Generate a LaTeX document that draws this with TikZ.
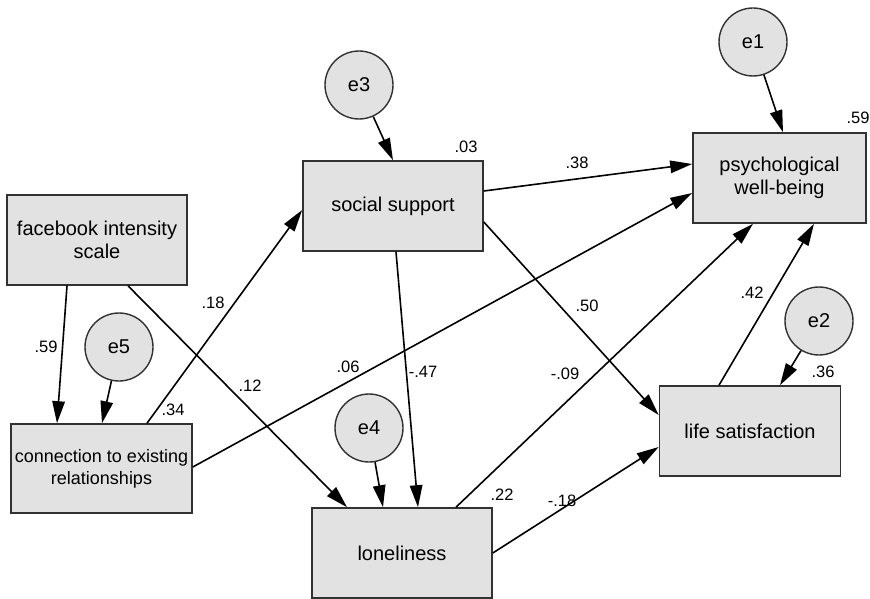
\documentclass[tikz,border=0pt]{standalone}
\usepackage{fontspec}
\setmainfont{Liberation Sans}
\usetikzlibrary{arrows.meta}
\definecolor{boxfill}{RGB}{226,226,226}
\definecolor{boxline}{RGB}{50,50,50}
\tikzset{
  var/.style={draw=boxline, line width=1.6pt, fill=boxfill, align=center,
    font=\fontsize{20}{23}\selectfont, inner sep=0pt},
  err/.style={circle, draw=boxline, line width=1.4pt, fill=boxfill,
    minimum size=68pt, inner sep=0pt, font=\fontsize{20}{23}\selectfont},
  lab/.style={font=\fontsize{16.5}{19}\selectfont, inner sep=0pt},
  sempath/.style={line width=1.6pt, -{Triangle[length=22pt,width=12.5pt]}},
}
\begin{document}
\begin{tikzpicture}[x=1pt,y=-1pt]
\useasboundingbox (0,0) rectangle (870,599);
% observed variables
\node[var, minimum width=180pt, minimum height=90pt] (fb) at (97,240) {facebook intensity\\scale};
\node[var, minimum width=181pt, minimum height=89pt, font=\fontsize{18}{22}\selectfont] (conn) at (101.5,468.5) {connection to existing\\relationships};
\node[var, minimum width=180pt, minimum height=90pt] (ss) at (393,206) {social support};
\node[var, minimum width=180pt, minimum height=90pt] (lon) at (402,553) {loneliness};
\node[var, minimum width=173pt, minimum height=90pt] (psy) at (779.5,178) {psychological\\well-being};
\node[var, minimum width=181pt, minimum height=90pt] (life) at (750,431) {life satisfaction};
% errors
\node[err] (e1) at (753,42) {e1};
\node[err] (e2) at (819,321) {e2};
\node[err] (e3) at (359,85) {e3};
\node[err] (e4) at (369,428) {e4};
\node[err] (e5) at (119,347) {e5};
% paths
\draw[sempath] ([xshift=-30pt]fb.south) -- ([xshift=-44.5pt]conn.north);
\draw[sempath] (e5) -- ([xshift=0.5pt]conn.north);
\draw[sempath] ([xshift=31pt]fb.south) -- ([xshift=-55pt]lon.north);
\draw[sempath] ([xshift=45.5pt]conn.north) -- ([yshift=-4pt]ss.west);
\draw[sempath] ([yshift=1.5pt]conn.east) -- ([yshift=-15pt]psy.west);
\draw[sempath] (e3) -- (ss.north);
\draw[sempath] ([yshift=15pt]ss.east) -- ([yshift=14pt]psy.west);
\draw[sempath] ([xshift=3pt]ss.south) -- ([xshift=16pt]lon.north);
\draw[sempath] ([yshift=-16pt]ss.east) -- ([yshift=16pt]life.west);
\draw[sempath] ([xshift=54pt]lon.north) -- ([xshift=-26.5pt]psy.south);
\draw[sempath] (lon.east) -- ([yshift=-16pt]life.west);
\draw[sempath] ([xshift=-31pt]life.north) -- ([xshift=34.5pt]psy.south);
\draw[sempath] (e1) -- ([xshift=3.5pt]psy.north);
\draw[sempath] (e2) -- ([xshift=30pt]life.north);
\draw[sempath] (e4) -- ([xshift=-19pt]lon.north);
% coefficients
\node[lab] (l1) at (46,347) {.59};
\node[lab] (l2) at (250,386) {.12};
\node[lab] (l3) at (213,303) {.18};
\node[lab] (l4) at (173,410) {.34};
\node[lab] (l5) at (348,367) {.06};
\node[lab] (l6) at (466,147) {.03};
\node[lab] (l7) at (577,163) {.38};
\node[lab] (l8) at (423,372) {-.47};
\node[lab] (l9) at (587,306) {.50};
\node[lab] (l10) at (565,374) {-.09};
\node[lab] (l11) at (502,495) {.22};
\node[lab] (l12) at (562,501) {-.18};
\node[lab] (l13) at (752,293) {.42};
\node[lab] (l14) at (858,118) {.59};
\node[lab] (l15) at (823,372) {.36};
\end{tikzpicture}
\end{document}
